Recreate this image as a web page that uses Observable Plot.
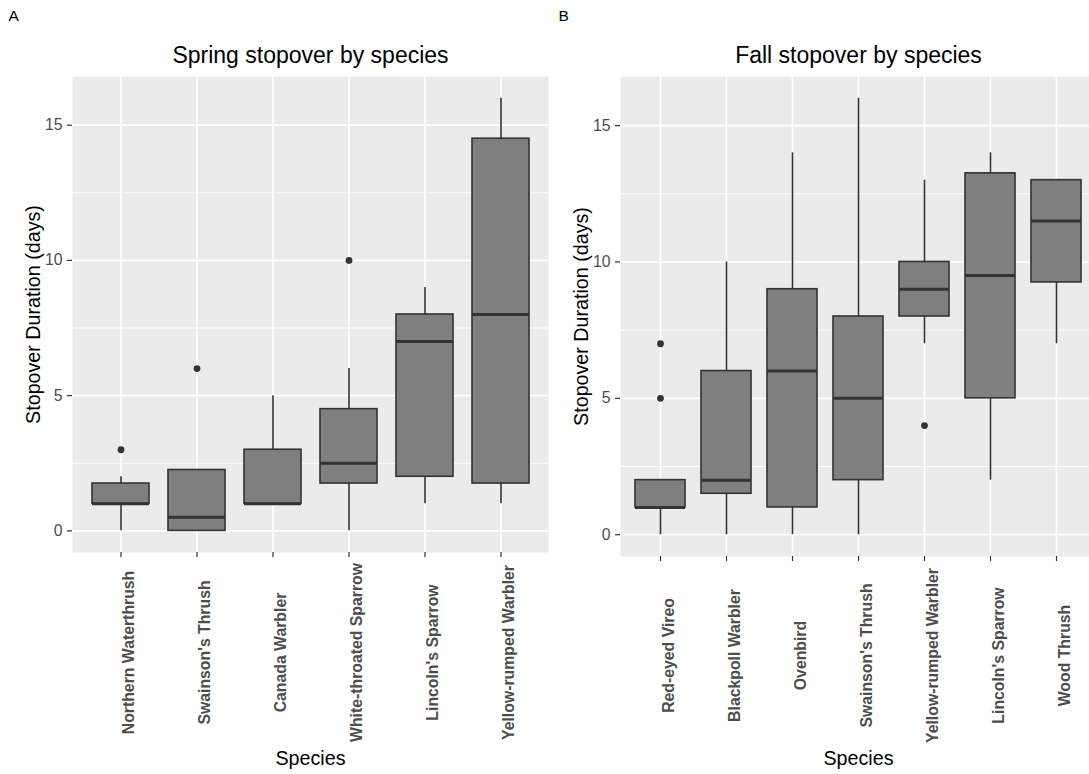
<!DOCTYPE html>
<html>
<head>
<meta charset="utf-8">
<script src="https://cdn.jsdelivr.net/npm/d3@7"></script>
<script src="https://cdn.jsdelivr.net/npm/@observablehq/plot@0.6"></script>
<style>
  html, body { margin: 0; padding: 0; background: #ffffff; }
  #wrap { position: relative; width: 1089px; height: 774px; overflow: hidden; background: #ffffff; }
  #wrap svg { position: absolute; top: 0; }
</style>
</head>
<body>
<div id="wrap"></div>
<script>
// ---- Panel A: Spring ----
const springSpecies = ["Northern Waterthrush", "Swainson's Thrush", "Canada Warbler", "White-throated Sparrow", "Lincoln's Sparrow", "Yellow-rumped Warbler"];
const springLow    = [0, 0,    1, 0,    1, 1];
const springQ1     = [1, 0,    1, 1.75, 2, 1.75];
const springMedian = [1, 0.5,  1, 2.5,  7, 8];
const springQ3     = [1.75, 2.25, 3, 4.5, 8, 14.5];
const springHigh   = [2, 2.25, 5, 6,    9, 16];
const springOutlierSpecies = ["Northern Waterthrush", "Swainson's Thrush", "White-throated Sparrow"];
const springOutlierValues  = [3, 6, 10];

// ---- Panel B: Fall ----
const fallSpecies = ["Red-eyed Vireo", "Blackpoll Warbler", "Ovenbird", "Swainson's Thrush", "Yellow-rumped Warbler", "Lincoln's Sparrow", "Wood Thrush"];
const fallLow    = [0, 0,   0, 0, 7,  2,     7];
const fallQ1     = [1, 1.5, 1, 2, 8,  5,     9.25];
const fallMedian = [1, 2,   6, 5, 9,  9.5,   11.5];
const fallQ3     = [2, 6,   9, 8, 10, 13.25, 13];
const fallHigh   = [2, 10, 14, 16, 13, 14,   13];
const fallOutlierSpecies = ["Red-eyed Vireo", "Red-eyed Vireo", "Yellow-rumped Warbler"];
const fallOutlierValues  = [7, 5, 4];

const yTicks = [0, 5, 10, 15];
const yMinorTicks = [2.5, 7.5, 12.5];
const yDomain = [-0.8, 16.8];

const FONT = "'Liberation Sans', Arial, Helvetica, sans-serif";

function drawPanel(cfg) {
  const table = cfg.species.map((s, i) => ({
    species: s, low: cfg.low[i], q1: cfg.q1[i], median: cfg.median[i], q3: cfg.q3[i], high: cfg.high[i]
  }));
  const outliers = cfg.outSpecies.map((s, i) => ({species: s, value: cfg.outValues[i]}));
  return Plot.plot({
    width: cfg.width,
    height: 774,
    marginTop: 76,
    marginBottom: cfg.marginBottom,
    marginLeft: 72,
    marginRight: cfg.marginRight,
    style: {fontFamily: FONT, background: "transparent", overflow: "visible", fontSize: "15.8px"},
    x: {type: "band", domain: cfg.species, paddingInner: 0.25, paddingOuter: 0.225, label: null},
    y: {domain: yDomain, label: null},
    marks: [
      Plot.frame({fill: "#EBEBEB", stroke: "none"}),
      Plot.gridY(yMinorTicks, {stroke: "#ffffff", strokeOpacity: 1, strokeWidth: 0.9}),
      Plot.gridY(yTicks, {stroke: "#ffffff", strokeOpacity: 1, strokeWidth: 1.8}),
      Plot.gridX({stroke: "#ffffff", strokeOpacity: 1, strokeWidth: 1.8}),
      Plot.axisY({ticks: yTicks, tickSize: 5, tickPadding: 5, stroke: "#333333", strokeWidth: 1.2, fill: "#4D4D4D", fontSize: 15.8, label: null}),
      Plot.axisX({tickSize: 5, tickFormat: () => "", stroke: "#333333", strokeWidth: 1.2, label: null}),
      Plot.ruleX(table, {x: "species", y1: "low", y2: "q1", stroke: "#333333", strokeWidth: 1.6}),
      Plot.ruleX(table, {x: "species", y1: "q3", y2: "high", stroke: "#333333", strokeWidth: 1.6}),
      Plot.barY(table, {x: "species", y1: "q1", y2: "q3", fill: "#7F7F7F", stroke: "#333333", strokeWidth: 1.6}),
      Plot.tickY(table, {x: "species", y: "median", stroke: "#333333", strokeWidth: 3}),
      Plot.dot(outliers, {x: "species", y: "value", r: 3.4, fill: "#333333", stroke: "none"}),
      // rotated category labels
      Plot.text(table, {x: "species", text: "species", frameAnchor: "bottom", rotate: -90, textAnchor: "middle", lineAnchor: "top", dy: cfg.labelDy, dx: 2, fontSize: 15.8, fontWeight: "bold", fill: "#4D4D4D"}),
      // axis titles
      Plot.text(["Species"], {text: d => d, frameAnchor: "bottom", dy: cfg.xTitleDy, lineAnchor: "bottom", textAnchor: "middle", fontSize: 19.7, fill: "#000000"}),
      Plot.text(["Stopover Duration (days)"], {text: d => d, frameAnchor: "left", dx: -33, rotate: -90, lineAnchor: "bottom", textAnchor: "middle", fontSize: 19.7, fill: "#000000"}),
      // title and tag
      Plot.text([cfg.title], {text: d => d, frameAnchor: "top", dy: -14, lineAnchor: "bottom", textAnchor: "middle", fontSize: 23, fill: "#000000"}),
      Plot.text([cfg.tag], {text: d => d, frameAnchor: "top-left", dx: cfg.tagDx, dy: -56, lineAnchor: "bottom", textAnchor: "start", fontSize: 15.5, fill: "#000000"})
    ]
  });
}

const wrap = document.getElementById("wrap");

const svgA = drawPanel({
  species: springSpecies, low: springLow, q1: springQ1, median: springMedian, q3: springQ3, high: springHigh,
  outSpecies: springOutlierSpecies, outValues: springOutlierValues,
  title: "Spring stopover by species", tag: "A", tagDx: -64,
  width: 550, marginRight: 2, marginBottom: 222, labelDy: 100, xTitleDy: 212
});
svgA.style.left = "0px";
wrap.appendChild(svgA);

const svgB = drawPanel({
  species: fallSpecies, low: fallLow, q1: fallQ1, median: fallMedian, q3: fallQ3, high: fallHigh,
  outSpecies: fallOutlierSpecies, outValues: fallOutlierValues,
  title: "Fall stopover by species", tag: "B", tagDx: -62,
  width: 548, marginRight: 0, marginBottom: 218, labelDy: 99, xTitleDy: 208
});
svgB.style.left = "548px";
wrap.appendChild(svgB);
</script>
</body>
</html>
